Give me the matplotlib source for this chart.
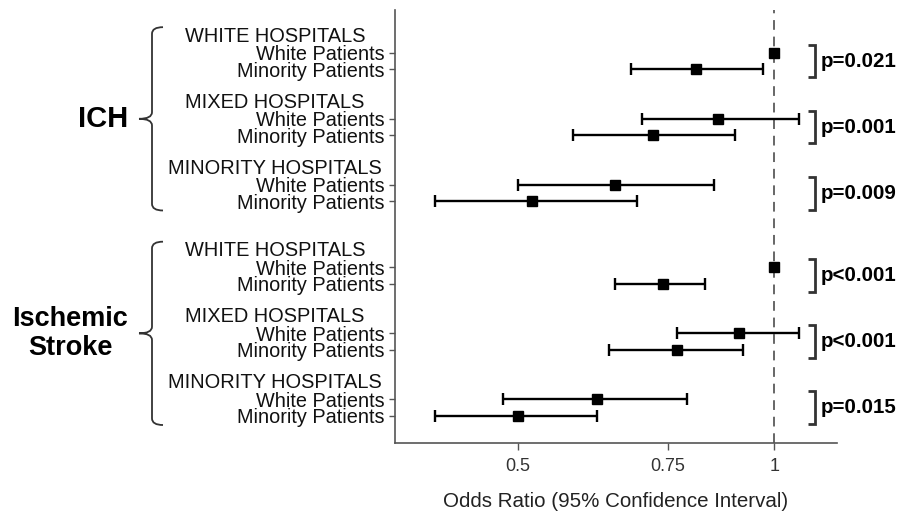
import numpy as np
import matplotlib
matplotlib.use("Agg")
import matplotlib.pyplot as plt
from matplotlib.path import Path
from matplotlib.patches import PathPatch
from matplotlib.transforms import blended_transform_factory

plt.rcParams['font.family'] = ['Liberation Sans', 'DejaVu Sans']

# ---------------- data ----------------
outcomes = ["ICH", "Ischemic\nStroke"]
hospitals = ["WHITE HOSPITALS", "MIXED HOSPITALS", "MINORITY HOSPITALS"]
patients = ["White Patients", "Minority Patients"]

# order: (white hosp: white, minority), (mixed: white, minority), (minority hosp: white, minority)
or_ich = [1.00, 0.81, 0.86, 0.72, 0.65, 0.52]
lo_ich = [np.nan, 0.68, 0.70, 0.58, 0.50, 0.40]
hi_ich = [np.nan, 0.97, 1.07, 0.90, 0.85, 0.69]

or_isch = [1.00, 0.74, 0.91, 0.77, 0.62, 0.50]
lo_isch = [np.nan, 0.65, 0.77, 0.64, 0.48, 0.40]
hi_isch = [np.nan, 0.83, 1.07, 0.92, 0.79, 0.62]

p_ich = ["p=0.021", "p=0.001", "p=0.009"]
p_isch = ["p<0.001", "p<0.001", "p=0.015"]

x_ticks = [0.5, 0.75, 1.0]
x_ticklabels = ["0.5", "0.75", "1"]
x_label = "Odds Ratio (95% Confidence Interval)"

# ---------------- layout ----------------
W, H = 907, 517
fig = plt.figure(figsize=(W / 100, H / 100), dpi=100)
ax = fig.add_axes([395 / W, 1 - 443 / H, (837 - 395) / W, (443 - 10) / H])

ors = [or_ich, or_isch]
los = [lo_ich, lo_isch]
his = [hi_ich, hi_isch]
pvals = [p_ich, p_isch]

rows_all, or_all, lo_all, hi_all, tick_labels = [], [], [], [], []
header_rows = []
group_rows = []
for k in range(len(outcomes)):
    base = k * 13
    g_rows = []
    for h in range(len(hospitals)):
        hr = base + h * 4
        header_rows.append((hr, hospitals[h]))
        for p in range(len(patients)):
            idx = h * 2 + p
            rows_all.append(hr + 1 + p)
            or_all.append(ors[k][idx])
            lo_all.append(los[k][idx])
            hi_all.append(his[k][idx])
            tick_labels.append(patients[p])
        g_rows.append(hr)
    group_rows.append(g_rows)

rows_all = np.array(rows_all, float)
or_all = np.array(or_all)
lo_all = np.array(lo_all)
hi_all = np.array(hi_all)

ax.set_xscale("log")
ax.set_xlim(0.359, 1.185)
ax.set_ylim(24.65, -1.59)

# reference line
ax.axvline(1.0, color="#666666", lw=1.4, ls=(0, (5, 3.5)), zorder=1)

m = ~np.isnan(lo_all)
ax.errorbar(or_all[m], rows_all[m],
            xerr=[or_all[m] - lo_all[m], hi_all[m] - or_all[m]],
            fmt="none", ecolor="black", elinewidth=1.7, capsize=4.2, capthick=1.7, zorder=2)
ax.plot(or_all, rows_all, "s", color="black", ms=7, zorder=3, ls="none")

# axes style
for s in ["top", "right"]:
    ax.spines[s].set_visible(False)
for s in ["left", "bottom"]:
    ax.spines[s].set_color("#555555")
    ax.spines[s].set_linewidth(1.2)

ax.set_yticks(rows_all)
ax.set_yticklabels(tick_labels, fontsize=14.3, color="#111111")
ax.tick_params(axis="y", length=4, width=1, color="#555555", pad=3.5)

ax.set_xticks(x_ticks)
ax.set_xticklabels(x_ticklabels, fontsize=13, color="#333333")
ax.xaxis.set_minor_locator(matplotlib.ticker.NullLocator())
ax.tick_params(axis="x", length=5, width=1, color="#555555", pad=6)
ax.set_xlabel(x_label, fontsize=14.8, color="#222222", labelpad=12)

# hospital headers
fig_y = blended_transform_factory(fig.transFigure, ax.transData)
for r, txt in header_rows:
    ax.text(275 / W, r, txt, transform=fig_y, ha="center", va="center",
            fontsize=14.4, color="#111111")

# braces and outcome labels
xv, xa, xt = 152 / W, 163 / W, 139 / W
outcome_sizes = [21, 19.5]
for k, g_rows in enumerate(group_rows):
    top = g_rows[0] - 0.55
    bot = g_rows[-1] + 2 + 0.56
    mid = (top + bot) / 2
    c = 0.4
    verts = [(xa, top), (xv, top), (xv, top + c),
             (xv, mid - c), (xv, mid), (xt, mid),
             (xv, mid), (xv, mid + c),
             (xv, bot - c), (xv, bot), (xa, bot)]
    codes = [Path.MOVETO, Path.CURVE3, Path.CURVE3,
             Path.LINETO, Path.CURVE3, Path.CURVE3,
             Path.CURVE3, Path.CURVE3,
             Path.LINETO, Path.CURVE3, Path.CURVE3]
    ax.add_patch(PathPatch(Path(verts, codes), transform=fig_y, fill=False,
                           edgecolor="#333333", lw=1.3, clip_on=False))
    ax.text(128 / W, mid, outcomes[k], transform=fig_y, ha="right", va="center",
            multialignment="center", fontsize=outcome_sizes[k], fontweight="bold",
            color="black", linespacing=1.15)

# p-value brackets
ax_y = ax.get_yaxis_transform()
bx, barm, tx = 0.950, 0.934, 0.963
for k, g_rows in enumerate(group_rows):
    for h, hr in enumerate(g_rows):
        t = hr + 1 - 0.48
        b = hr + 2 + 0.5
        ax.plot([barm, bx, bx, barm], [t, t, b, b], transform=ax_y, color="#333333",
                lw=2.0, clip_on=False, solid_capstyle="butt", solid_joinstyle="miter")
        ax.text(tx, (t + b) / 2, pvals[k][h], transform=ax_y, ha="left",
                va="center", fontsize=14.8, fontweight="bold", color="black")

fig.savefig("out.png", dpi=100)
